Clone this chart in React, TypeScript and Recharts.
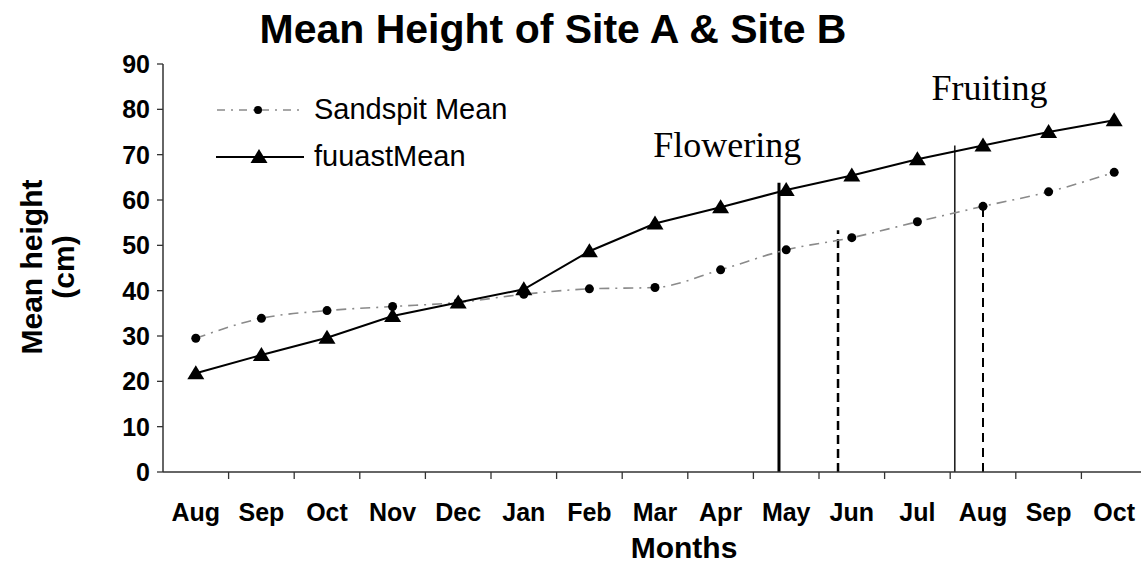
import { LineChart, Line, XAxis, YAxis, Legend, ReferenceLine, ReferenceDot } from "recharts";

const months = ["Aug", "Sep", "Oct", "Nov", "Dec", "Jan", "Feb", "Mar", "Apr", "May", "Jun", "Jul", "Aug", "Sep", "Oct"];
const sandspitMean = [29.5, 33.9, 35.6, 36.5, 37.4, 39.2, 40.4, 40.7, 44.6, 49.0, 51.7, 55.2, 58.6, 61.8, 66.1];
const fuuastMean = [21.8, 25.8, 29.6, 34.4, 37.4, 40.3, 48.7, 54.8, 58.4, 62.2, 65.4, 69.0, 72.0, 75.0, 77.6];
const yTicks = [0, 10, 20, 30, 40, 50, 60, 70, 80, 90];

// stage markers: x in month units (0 = left edge of first month), top in cm
const stageX = [9.39, 10.29, 12.07, 12.5];
const stageTop = [63.8, 53.3, 72.0, 58.0];
const stageLabels = ["Flowering", "Fruiting"];
const stageLabelX = [8.6, 12.6];
const stageLabelY = [72.3, 84.9];

const SANS = "'Liberation Sans', Arial, sans-serif";
const SERIF = "'Liberation Serif', 'Times New Roman', serif";

const CHART_W = 1147;
const CHART_H = 573;
const PLOT_LEFT = 163;
const BAND = (CHART_W - PLOT_LEFT) / months.length;

const stageStyles = [
    { stroke: "#000", strokeWidth: 3 },
    { stroke: "#000", strokeWidth: 2.5, strokeDasharray: "9 5" },
    { stroke: "#222", strokeWidth: 1.6 },
    { stroke: "#000", strokeWidth: 2, strokeDasharray: "9 6" },
];

const data = months.map((m, i) => ({
    x: i + 0.5,
    month: m,
    sandspit: sandspitMean[i],
    fuuast: fuuastMean[i],
}));

function MonthTick(props: any) {
    const { x, y, index } = props;
    const axisY = y - 10;
    return (
        <g>
            <line x1={x + BAND / 2} y1={axisY} x2={x + BAND / 2} y2={axisY + 7} stroke="#333" strokeWidth={1.3} />
            <text x={x} y={axisY + 49} textAnchor="middle" fontSize={25} fontWeight={700} fontFamily={SANS} fill="#000">
                {months[index]}
            </text>
        </g>
    );
}

function TriangleDot(props: any) {
    const { cx, cy, index } = props;
    if (cx == null || cy == null) return null;
    return <path key={`tri-${index}`} d={`M${cx},${cy - 8} L${cx + 8.5},${cy + 6} L${cx - 8.5},${cy + 6} Z`} fill="#000" />;
}

function CircleDot(props: any) {
    const { cx, cy, index } = props;
    if (cx == null || cy == null) return null;
    return <circle key={`dot-${index}`} cx={cx} cy={cy} r={4.5} fill="#000" />;
}

function LegendBox() {
    const row = { display: "flex", alignItems: "center", height: 47 } as const;
    const text = { fontFamily: SANS, fontSize: 29, color: "#000", marginLeft: 10 };
    return (
        <div>
            <div style={row}>
                <svg width={88} height={20}>
                    <line x1={1} y1={10} x2={87} y2={10} stroke="#8a8a8a" strokeWidth={1.6} strokeDasharray="8 6 2 6" />
                    <circle cx={42} cy={10} r={4} fill="#000" />
                </svg>
                <span style={text}>Sandspit Mean</span>
            </div>
            <div style={row}>
                <svg width={88} height={20}>
                    <line x1={0} y1={10} x2={88} y2={10} stroke="#000" strokeWidth={2} />
                    <path d="M43,2 L51.5,16 L34.5,16 Z" fill="#000" />
                </svg>
                <span style={text}>fuuastMean</span>
            </div>
        </div>
    );
}

export default function App() {
    return (
        <div style={{ position: "relative", width: 1141, height: 573, overflow: "hidden", background: "#fff" }}>
            <style>{"body{margin:0}"}</style>
            <div
                style={{
                    position: "absolute", left: 0, width: 1106, top: 9, textAlign: "center",
                    fontFamily: SANS, fontWeight: 700, fontSize: 41, lineHeight: "41px", color: "#000",
                }}
            >
                Mean Height of Site A &amp; Site B
            </div>
            <div
                style={{
                    position: "absolute", left: 51 - 150, top: 267 - 35, width: 300, height: 70,
                    transform: "rotate(-90deg)", textAlign: "center", fontFamily: SANS, fontWeight: 700,
                    fontSize: 30, lineHeight: "32px", color: "#000",
                }}
            >
                Mean height
                <br />
                (cm)
            </div>
            <div
                style={{
                    position: "absolute", left: 584, width: 200, top: 532, textAlign: "center",
                    fontFamily: SANS, fontWeight: 700, fontSize: 30, lineHeight: "32px", color: "#000",
                }}
            >
                Months
            </div>
            <LineChart
                width={CHART_W}
                height={CHART_H}
                data={data}
                margin={{ top: 64, right: 0, bottom: 56, left: 103 }}
                style={{ position: "absolute", left: 0, top: 0 }}
            >
                <XAxis
                    type="number"
                    dataKey="x"
                    domain={[0, months.length]}
                    ticks={data.map((d) => d.x)}
                    interval={0}
                    tickLine={false}
                    tickSize={8}
                    tickMargin={2}
                    height={45}
                    axisLine={{ stroke: "#333", strokeWidth: 1.5 }}
                    tick={<MonthTick />}
                />
                <YAxis
                    type="number"
                    domain={[0, 90]}
                    ticks={yTicks}
                    interval={0}
                    width={60}
                    tickSize={6}
                    tickMargin={7}
                    axisLine={{ stroke: "#333", strokeWidth: 1.5 }}
                    tickLine={{ stroke: "#333", strokeWidth: 1.3 }}
                    tick={{ fontSize: 25, fontWeight: 700, fill: "#000", fontFamily: SANS }}
                />
                <Legend
                    layout="vertical"
                    align="center"
                    verticalAlign="middle"
                    wrapperStyle={{ left: 216, top: 86, width: "auto" }}
                    content={() => <LegendBox />}
                />
                {stageX.map((sx, i) => (
                    <ReferenceLine
                        key={`stage-${i}`}
                        segment={[{ x: sx, y: 0 }, { x: sx, y: stageTop[i] }]}
                        {...stageStyles[i]}
                    />
                ))}
                {stageLabels.map((label, i) => (
                    <ReferenceDot
                        key={`label-${i}`}
                        x={stageLabelX[i]}
                        y={stageLabelY[i]}
                        r={0}
                        fill="none"
                        stroke="none"
                        label={{ value: label, position: "center", fontSize: 36, fontFamily: SERIF, fill: "#000" }}
                    />
                ))}
                <Line
                    type="monotone"
                    dataKey="sandspit"
                    stroke="#8a8a8a"
                    strokeWidth={1.6}
                    strokeDasharray="10 6 2 6"
                    dot={<CircleDot />}
                    isAnimationActive={false}
                />
                <Line
                    type="linear"
                    dataKey="fuuast"
                    stroke="#000"
                    strokeWidth={2}
                    dot={<TriangleDot />}
                    isAnimationActive={false}
                />
            </LineChart>
        </div>
    );
}
